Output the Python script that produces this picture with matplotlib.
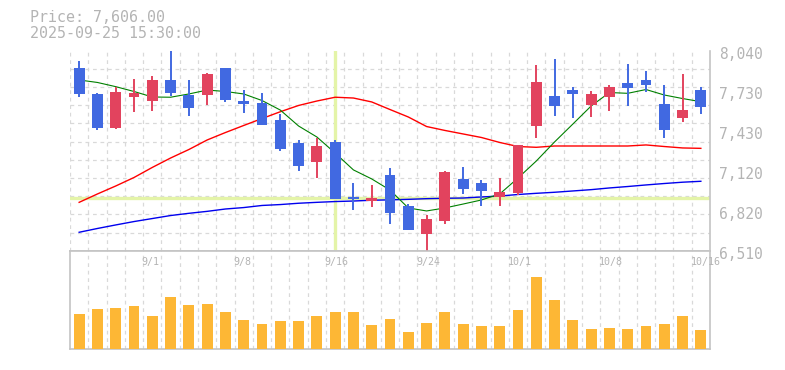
#!/usr/bin/env python3
"""Daily candlestick chart with moving averages and volume, 8/26 - 10/16."""
import matplotlib
matplotlib.use("Agg")
import matplotlib.pyplot as plt
import matplotlib.transforms as mtransforms
import numpy as np

# OHLC per trading day (index 0 = 8/26, index 34 = 10/16)
opens = [7908, 7706, 7451, 7688, 7658, 7816, 7701, 7701, 7908, 7655,
         7640, 7510, 7334, 7191, 7342, 6921, 6892, 7089, 6852, 6638,
         6737, 7058, 7028, 6923, 6954, 7466, 7693, 7739, 7627, 7688,
         7793, 7816, 7632, 7527, 7739]
highs = [7961, 7714, 7765, 7826, 7846, 8035, 7816, 7869, 7910, 7739,
         7714, 7556, 7357, 7370, 7357, 7030, 7013, 7140, 6865, 6783,
         7120, 7150, 7051, 7066, 7322, 7931, 7976, 7762, 7732, 7778,
         7939, 7885, 7778, 7862, 7765]
lows = [7689, 7431, 7443, 7573, 7581, 7696, 7543, 7625, 7648, 7563,
        7470, 7275, 7122, 7064, 6905, 6824, 6844, 6714, 6665, 6505,
        6717, 6946, 6854, 6852, 6936, 7374, 7543, 7527, 7535, 7581,
        7619, 7726, 7374, 7497, 7558]
closes = [7709, 7451, 7724, 7716, 7816, 7719, 7604, 7862, 7663, 7632,
          7474, 7290, 7160, 7311, 6908, 6906, 6913, 6801, 6668, 6752,
          7112, 6982, 6969, 6959, 7319, 7801, 7619, 7711, 7709, 7762,
          7757, 7780, 7436, 7586, 7606]

# moving averages
ma_short = [7816, 7797, 7765, 7728, 7686, 7684, 7709, 7739, 7728, 7709,
            7659, 7586, 7464, 7380, 7257, 7128, 7059, 6974, 6837, 6814,
            6837, 6867, 6898, 6944, 7066, 7196, 7342, 7479, 7617, 7720,
            7714, 7743, 7701, 7674, 7650]
ma_mid = [6880, 6944, 7005, 7070, 7147, 7219, 7284, 7357, 7414, 7468,
          7521, 7573, 7621, 7655, 7684, 7678, 7648, 7590, 7533, 7460,
          7430, 7403, 7376, 7338, 7307, 7301, 7311, 7311, 7311, 7311,
          7311, 7319, 7307, 7296, 7293]
ma_long = [6651, 6680, 6707, 6733, 6756, 6779, 6796, 6811, 6829, 6840,
           6856, 6863, 6873, 6880, 6886, 6890, 6896, 6899, 6903, 6908,
           6911, 6913, 6921, 6928, 6940, 6949, 6957, 6967, 6977, 6990,
           7001, 7013, 7024, 7034, 7041]

volume = [102, 116, 119, 125, 98, 152, 128, 131, 107, 86,
          74, 83, 83, 98, 107, 107, 71, 89, 50, 77,
          107, 74, 68, 68, 113, 212, 143, 86, 59, 62,
          59, 68, 74, 98, 56]

date_pos = [4, 9, 14, 19, 24, 29, 34]
date_labels = ["9/1", "9/8", "9/16", "9/24", "10/1", "10/8", "10/16"]
price_ticks = [6510, 6816, 7122, 7428, 7734, 8040]
price_labels = ["6,510", "6,820", "7,120", "7,430", "7,730", "8,040"]

cross_idx = 14
cross_price = 6911

UP = "#e2435e"
DOWN = "#4169e1"
GRID = "#d9d9d9"
BORDER = "#c4c4c4"
TEXT = "#b4b4b4"
FONT = "DejaVu Sans Mono"


def draw_candles(ax, x):
    o = np.array(opens)
    c = np.array(closes)
    colors = [UP if cc >= oo else DOWN for oo, cc in zip(o, c)]
    ax.vlines(x, lows, highs, colors=colors, linewidth=1.4, zorder=4)
    ax.bar(x, np.abs(c - o), 0.6, bottom=np.minimum(o, c), color=colors,
           zorder=5, linewidth=0)


def main():
    fig = plt.figure(figsize=(7.85, 3.7), dpi=100)
    ax = fig.add_axes([70 / 785, 119.3 / 370, 640 / 785, 200 / 370])
    axv = fig.add_axes([70 / 785, 21 / 370, 640 / 785, 98.3 / 370])

    n = len(opens)
    x = np.arange(n)
    grid_x = np.arange(n) - 0.5

    # price panel
    ax.set_xlim(-0.5, n - 0.5)
    ax.set_ylim(6510, 8040)
    ax.set_xticks(grid_x, minor=True)
    ax.set_yticks(np.linspace(6510, 8040, 12)[1:], minor=True)
    ax.set_xticks([])
    ax.grid(True, which="minor", color=GRID, linestyle=(0, (3, 3)), linewidth=0.9)
    ax.tick_params(which="both", length=0)
    ax.set_axisbelow(True)

    ax.axvline(cross_idx, color="#e4f4a8", linewidth=2.4, zorder=1)
    ax.axhline(cross_price, color="#e4f4a8", linewidth=2.4, zorder=1)

    ax.plot(x, ma_mid, color="#ff0000", linewidth=1.0, zorder=3)
    ax.plot(x, ma_long, color="#0000ee", linewidth=1.0, zorder=3)
    ax.plot(x, ma_short, color="#008000", linewidth=0.8, zorder=3)
    draw_candles(ax, x)

    ax.yaxis.tick_right()
    ax.set_yticks(price_ticks)
    ax.set_yticklabels(price_labels, fontsize=10.5, color=TEXT, family=FONT)
    ax.tick_params(axis="y", pad=6.5)
    shift = mtransforms.ScaledTranslation(0, -2.5 / 100, fig.dpi_scale_trans)
    for lbl in ax.get_yticklabels():
        lbl.set_transform(lbl.get_transform() + shift)

    for side in ("left", "top"):
        ax.spines[side].set_visible(False)
    for side in ("right", "bottom"):
        ax.spines[side].set_color(BORDER)
        ax.spines[side].set_linewidth(1.2)

    # volume panel
    axv.set_xlim(-0.5, n - 0.5)
    axv.set_ylim(0, 288)
    axv.bar(x, volume, 0.6, color="#fdb735", zorder=3, linewidth=0)
    axv.set_xticks(grid_x[1:], minor=True)
    axv.set_xticks([])
    axv.set_yticks([])
    axv.grid(True, which="minor", axis="x", color=GRID,
             linestyle=(0, (3, 3)), linewidth=0.9)
    axv.tick_params(which="both", length=0)
    for sp in axv.spines.values():
        sp.set_color(BORDER)
        sp.set_linewidth(1.2)
    trans = mtransforms.blended_transform_factory(axv.transData, axv.transAxes)
    for p, lbl in zip(date_pos, date_labels):
        axv.text(p - 0.57, 0.885, lbl, transform=trans, ha="left", va="center",
                 fontsize=7.2, color=TEXT, family=FONT, clip_on=False, zorder=6)

    fig.text(30 / 785, 1 - 18 / 370, "Price: 7,606.00", ha="left", va="center",
             fontsize=10.8, color=TEXT, family=FONT)
    fig.text(30 / 785, 1 - 33 / 370, "2025-09-25 15:30:00", ha="left",
             va="center", fontsize=10.8, color=TEXT, family=FONT)

    fig.savefig("out.png", dpi=100)


if __name__ == "__main__":
    main()
